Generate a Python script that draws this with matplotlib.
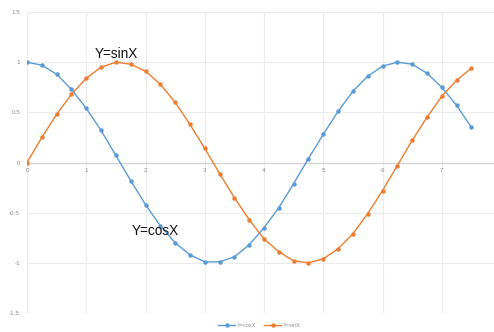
import matplotlib
matplotlib.use('Agg')
import matplotlib.pyplot as plt

plt.rcParams['font.family'] = ['Liberation Sans', 'DejaVu Sans']

# sample points and the two curves
x_vals = [0, 0.25, 0.5, 0.75, 1, 1.25, 1.5, 1.75, 2, 2.25, 2.5, 2.75, 3, 3.25, 3.5, 3.75,
          4, 4.25, 4.5, 4.75, 5, 5.25, 5.5, 5.75, 6, 6.25, 6.5, 6.75, 7, 7.25, 7.5]
cos_vals = [1.00, 0.97, 0.88, 0.73, 0.54, 0.32, 0.07, -0.18, -0.42, -0.63, -0.80, -0.92,
            -0.99, -0.99, -0.94, -0.82, -0.65, -0.45, -0.21, 0.04, 0.28, 0.51, 0.71, 0.86,
            0.96, 1.00, 0.98, 0.89, 0.75, 0.57, 0.35]
sin_vals = [0.00, 0.25, 0.48, 0.68, 0.84, 0.95, 1.00, 0.98, 0.91, 0.78, 0.60, 0.38,
            0.14, -0.11, -0.35, -0.57, -0.76, -0.89, -0.98, -1.00, -0.96, -0.86, -0.71, -0.51,
            -0.28, -0.03, 0.22, 0.45, 0.66, 0.82, 0.94]

x_ticks = [0, 1, 2, 3, 4, 5, 6, 7]
y_ticks = [-1.5, -1, -0.5, 0, 0.5, 1, 1.5]
y_labels = ['-1.5', '-1', '-0.5', '0', '0.5', '1', '1.5']

blue = '#5B9BD5'
orange = '#ED7D31'

fig = plt.figure(figsize=(4.94, 3.32), dpi=100)
ax = fig.add_axes([0.0547, 0.0572, 0.9595, 0.9066])

ax.plot(x_vals, cos_vals, color=blue, lw=1.0, marker='o', ms=2.2, label='Y=cosX', zorder=3)
ax.plot(x_vals, sin_vals, color=orange, lw=1.0, marker='o', ms=2.2, label='Y=sinX', zorder=3)

ax.set_xlim(0, 8)
ax.set_ylim(-1.5, 1.5)
ax.set_xticks(x_ticks)
ax.set_yticks(y_ticks)
ax.set_yticklabels(y_labels)
ax.grid(True, color='#ececec', lw=0.8)
ax.set_axisbelow(True)

for s in ['top', 'right', 'left']:
    ax.spines[s].set_visible(False)
ax.spines['bottom'].set_position(('data', 0))
ax.spines['bottom'].set_color('#d6d6d6')
ax.spines['bottom'].set_linewidth(1.0)

ax.tick_params(length=0, labelsize=4.5, labelcolor='#8c8c8c')
ax.tick_params(axis='x', pad=4)
ax.tick_params(axis='y', pad=5)

ax.text(1.15, 1.08, 'Y=sinX', fontsize=9.8, va='center', ha='left', color='#111111')
ax.text(1.77, -0.68, 'Y=cosX', fontsize=9.8, va='center', ha='left', color='#111111')

fig.legend(loc='center', bbox_to_anchor=(0.525, 0.021), ncol=2, frameon=False,
           fontsize=4, handlelength=3, columnspacing=1.5, handletextpad=0.3,
           labelcolor='#8c8c8c')

fig.savefig('out.png', dpi=100)
